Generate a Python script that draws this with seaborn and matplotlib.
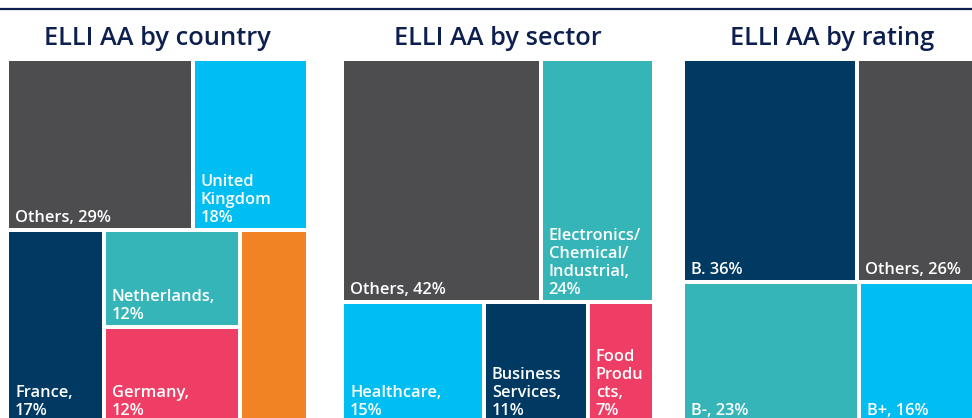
import matplotlib
matplotlib.use("Agg")
import matplotlib.pyplot as plt
import matplotlib.patches as mpatches
from matplotlib.lines import Line2D
import seaborn as sns

# data
country_names = ["Others, 29%", "United\nKingdom\n18%", "France,\n17%",
                 "Netherlands,\n12%", "Germany,\n12%", ""]
country_values = [29, 18, 17, 12, 12, 12]
country_colors = ["#4d4d4f", "#00bdf2", "#003a63", "#36b5b8", "#ef3e65", "#f28324"]
country_layout = [[0, 1], [2, [3, 4], 5]]

sector_names = ["Others, 42%", "Electronics/\nChemical/\nIndustrial,\n24%",
                "Healthcare,\n15%", "Business\nServices,\n11%", "Food\nProdu\ncts,\n7%"]
sector_values = [42, 24, 15, 11, 7]
sector_colors = ["#4d4d4f", "#36b5b8", "#00bdf2", "#003a63", "#ef3e65"]
sector_layout = [[0, 1], [2, 3, 4]]

rating_names = ["B. 36%", "Others, 26%", "B-, 23%", "B+, 16%"]
rating_values = [36, 26, 23, 16]
rating_colors = ["#003a63", "#4d4d4f", "#36b5b8", "#00bdf2"]
rating_layout = [[0, 1], [2, 3]]

titles = ["ELLI AA by country", "ELLI AA by sector", "ELLI AA by rating"]

sns.set_theme(style="white")
plt.rcParams["font.family"] = ["Open Sans", "DejaVu Sans"]

W, H = 972, 418
fig = plt.figure(figsize=(W / 100, H / 100), dpi=100)

NAVY = "#0c1f4f"
GAP = 4  # white gap between tiles, px


def node_sum(node, values):
    if isinstance(node, int):
        return values[node]
    return sum(node_sum(n, values) for n in node)


def layout(node, x, y, w, h, vertical, values, out):
    if isinstance(node, int):
        out[node] = (x, y, w, h)
        return
    total = node_sum(node, values)
    for n in node:
        frac = node_sum(n, values) / total
        if vertical:
            layout(n, x, y, w, h * frac, not vertical, values, out)
            y += h * frac
        else:
            layout(n, x, y, w * frac, h, not vertical, values, out)
            x += w * frac


def treemap(left, right, title, names, values, colors, tree):
    top, bottom = 59, 423
    pw, ph = right - left, bottom - top
    ax = fig.add_axes([left / W, 1 - bottom / H, pw / W, ph / H])
    ax.set_xlim(0, pw)
    ax.set_ylim(ph, 0)
    ax.axis("off")
    rects = {}
    layout(tree, 0, 0, pw, ph, True, values, rects)
    for i, (x, y, w, h) in rects.items():
        ax.add_patch(mpatches.Rectangle((x + GAP / 2, y + GAP / 2), w - GAP, h - GAP,
                                        facecolor=colors[i], edgecolor="none"))
        ax.text(x + GAP / 2 + 6, y + h - GAP / 2 - 6, names[i], color="white",
                fontsize=11.8, fontweight="semibold", ha="left", va="baseline",
                linespacing=1.16)
    ax.set_title(title, fontsize=18.3, color=NAVY, pad=10, fontweight="semibold")
    return ax


treemap(7, 308, titles[0], country_names, country_values, country_colors, country_layout)
treemap(342, 654, titles[1], sector_names, sector_values, sector_colors, sector_layout)
treemap(683, 982, titles[2], rating_names, rating_values, rating_colors, rating_layout)

fig.add_artist(Line2D([0, 1], [1 - 8.5 / H, 1 - 8.5 / H], color=NAVY, lw=1.6,
                      transform=fig.transFigure))

fig.savefig("out.png", dpi=100)
